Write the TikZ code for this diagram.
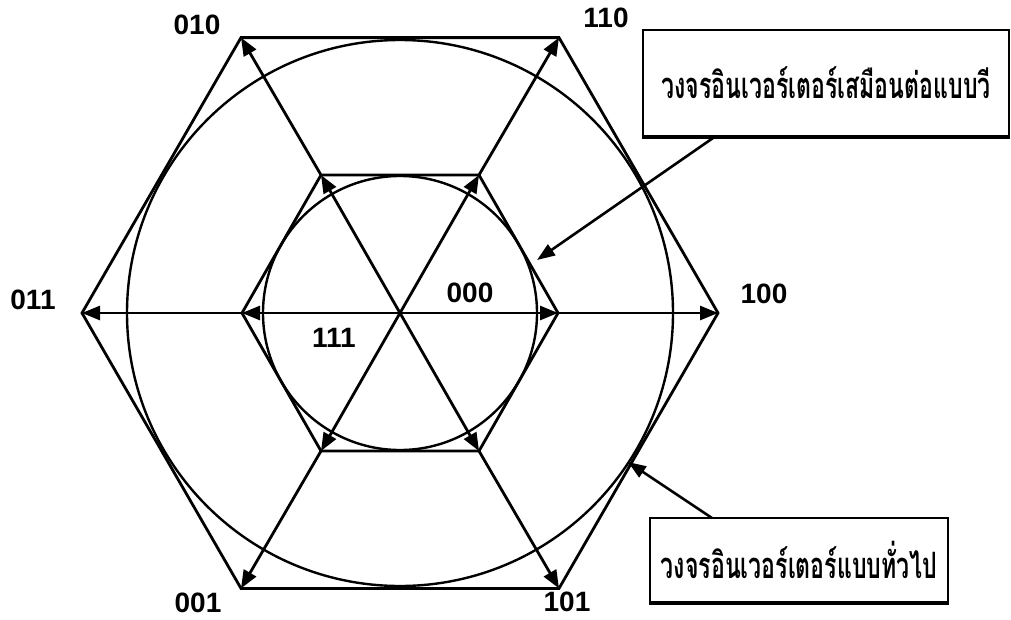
\documentclass[tikz,border=0pt]{standalone}
\usepackage{fontspec}
\setmainfont{Liberation Sans}
\newfontfamily\thaifont[Script=Thai]{Loma}
\usetikzlibrary{arrows.meta}
\newcommand{\thaitxt}[1]{\scalebox{1.05}[1.65]{\thaifont\bfseries\fontsize{22}{26}\selectfont #1}}
\begin{document}
\begin{tikzpicture}[x=1pt,y=-1pt,
  hexline/.style={line width=2.8pt, line join=miter},
  vec/.style={line width=2.8pt, -{Triangle[length=18pt,width=14pt]}},
  circ/.style={line width=2.4pt},
  lbl/.style={font=\bfseries\fontsize{28}{28}\selectfont, inner sep=0pt},
  infobox/.style={draw, line width=2.6pt, inner sep=0pt},
  ptr/.style={line width=2.6pt, -{Triangle[length=18pt,width=13pt]}}]
\useasboundingbox (0,0) rectangle (1011,619);
% centre and vertices
\coordinate (O) at (400,313);
\coordinate (o100) at (718,313);
\coordinate (o110) at (559,37.6);
\coordinate (o010) at (241,37.6);
\coordinate (o011) at (82,313);
\coordinate (o001) at (241,588.4);
\coordinate (o101) at (559,588.4);
\coordinate (i100) at (558,313);
\coordinate (i110) at (479,175);
\coordinate (i010) at (321,175);
\coordinate (i011) at (242,313);
\coordinate (i001) at (321,451);
\coordinate (i101) at (479,451);
% circles
\draw[circ] (O) circle[radius=273pt];
\draw[circ] (O) circle[radius=137pt];
% hexagons
\draw[hexline] (o100)--(o110)--(o010)--(o011)--(o001)--(o101)--cycle;
\draw[hexline] (i100)--(i110)--(i010)--(i011)--(i001)--(i101)--cycle;
% vectors
\foreach \v in {100,110,010,011,001,101}{
  \draw[vec] (O) -- (i\v);
  \draw[vec] (i\v) -- (o\v);
}
% labels
\node[lbl] (l010) at (197,25) {010};
\node[lbl] (l110) at (606,18) {110};
\node[lbl] (l100) at (764,294) {100};
\node[lbl] (l011) at (33,300) {011};
\node[lbl] (l001) at (198,603) {001};
\node[lbl] (l101) at (567,602) {101};
\node[lbl] (l000) at (470,293) {000};
\node[lbl] (l111) at (334,338) {111};
% boxes
\node[infobox, minimum width=366pt, minimum height=106pt] (b1) at (826,83) {\thaitxt{วงจรอินเวอร์เตอร์เสมือนต่อแบบวี}};
\draw[line width=4pt] (b1.south west) -- (b1.south east);
\node[infobox, minimum width=298pt, minimum height=84pt] (b2) at (799,560) {\thaitxt{วงจรอินเวอร์เตอร์แบบทั่วไป}};
\draw[line width=3.5pt] (b2.south west) -- (b2.south east);
\coordinate (p1s) at (713,138);
\coordinate (p1e) at (537,260);
\coordinate (p2s) at (712,518);
\coordinate (p2e) at (628,462);
\draw[ptr] (p1s) -- (p1e);
\draw[ptr] (p2s) -- (p2e);
\end{tikzpicture}
\end{document}
